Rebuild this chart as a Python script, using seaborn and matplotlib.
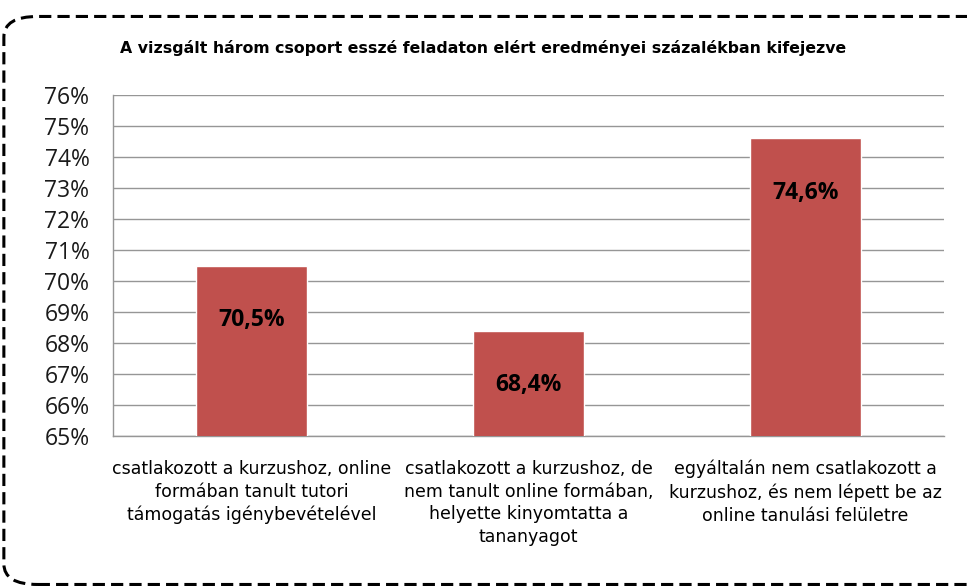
import matplotlib
matplotlib.use('Agg')
import matplotlib.pyplot as plt
import seaborn as sns
import pandas as pd
from matplotlib.patches import FancyBboxPatch
from matplotlib.ticker import FuncFormatter

# Data
categories = [
    'csatlakozott a kurzushoz, online\nformában tanult tutori\ntámogatás igénybevételével',
    'csatlakozott a kurzushoz, de\nnem tanult online formában,\nhelyette kinyomtatta a\ntananyagot',
    'egyáltalán nem csatlakozott a\nkurzushoz, és nem lépett be az\nonline tanulási felületre',
]
values = [70.5, 68.4, 74.6]
title = 'A vizsgált három csoport esszé feladaton elért eredményei százalékban kifejezve'

df = pd.DataFrame({'group': categories, 'pct': values})

sns.set_theme(style='white')
plt.rcParams['font.family'] = ['DejaVu Sans']
plt.rcParams['text.color'] = 'black'

fig = plt.figure(figsize=(9.67, 5.88), dpi=100)
ax = fig.add_axes([0.1169, 0.2585, 0.8594, 0.5799])

# Rounded dashed frame around the whole chart
frame = FancyBboxPatch((0.004, 0.006), 1.05, 0.966,
                       boxstyle='round,pad=0,rounding_size=0.035',
                       transform=fig.transFigure, fill=False,
                       edgecolor='black', linewidth=2.2, linestyle=(0, (4, 2)),
                       clip_on=False)
fig.patches.append(frame)

sns.barplot(data=df, x='group', y='pct', color='#C0504D', width=0.4,
            saturation=1, ax=ax, zorder=3)

ax.set_ylim(65, 76)
ax.set_yticks(range(65, 77))
ax.yaxis.set_major_formatter(FuncFormatter(lambda v, p: f'{int(v)}%'))
ax.grid(axis='y', color='#969696', linewidth=1)
ax.set_axisbelow(True)
for side in ['top', 'right']:
    ax.spines[side].set_visible(False)
for side in ['left', 'bottom']:
    ax.spines[side].set_color('#969696')
    ax.spines[side].set_linewidth(1)

ax.set_xlabel('')
ax.set_ylabel('')
ax.tick_params(axis='y', labelsize=16.5, pad=17, colors='#1a1a1a', length=0)
ax.tick_params(axis='x', labelsize=12.5, pad=17, colors='black', length=0)
for lbl in ax.get_yticklabels():
    lbl.set_family(['Open Sans', 'DejaVu Sans'])
for lbl in ax.get_xticklabels():
    lbl.set_verticalalignment('top')
    lbl.set_linespacing(1.35)

# Value labels inside the bars
for i, v in enumerate(values):
    ax.text(i, v - 1.75, f'{v:.1f}%'.replace('.', ','), ha='center', va='center',
            fontsize=16.5, fontweight='bold', color='black',
            family=['Open Sans', 'DejaVu Sans'], zorder=4)

fig.text(0.5, 0.918, title, ha='center', va='center', fontsize=11.3,
         fontweight='bold', color='black')

plt.savefig('out.png', dpi=100)
